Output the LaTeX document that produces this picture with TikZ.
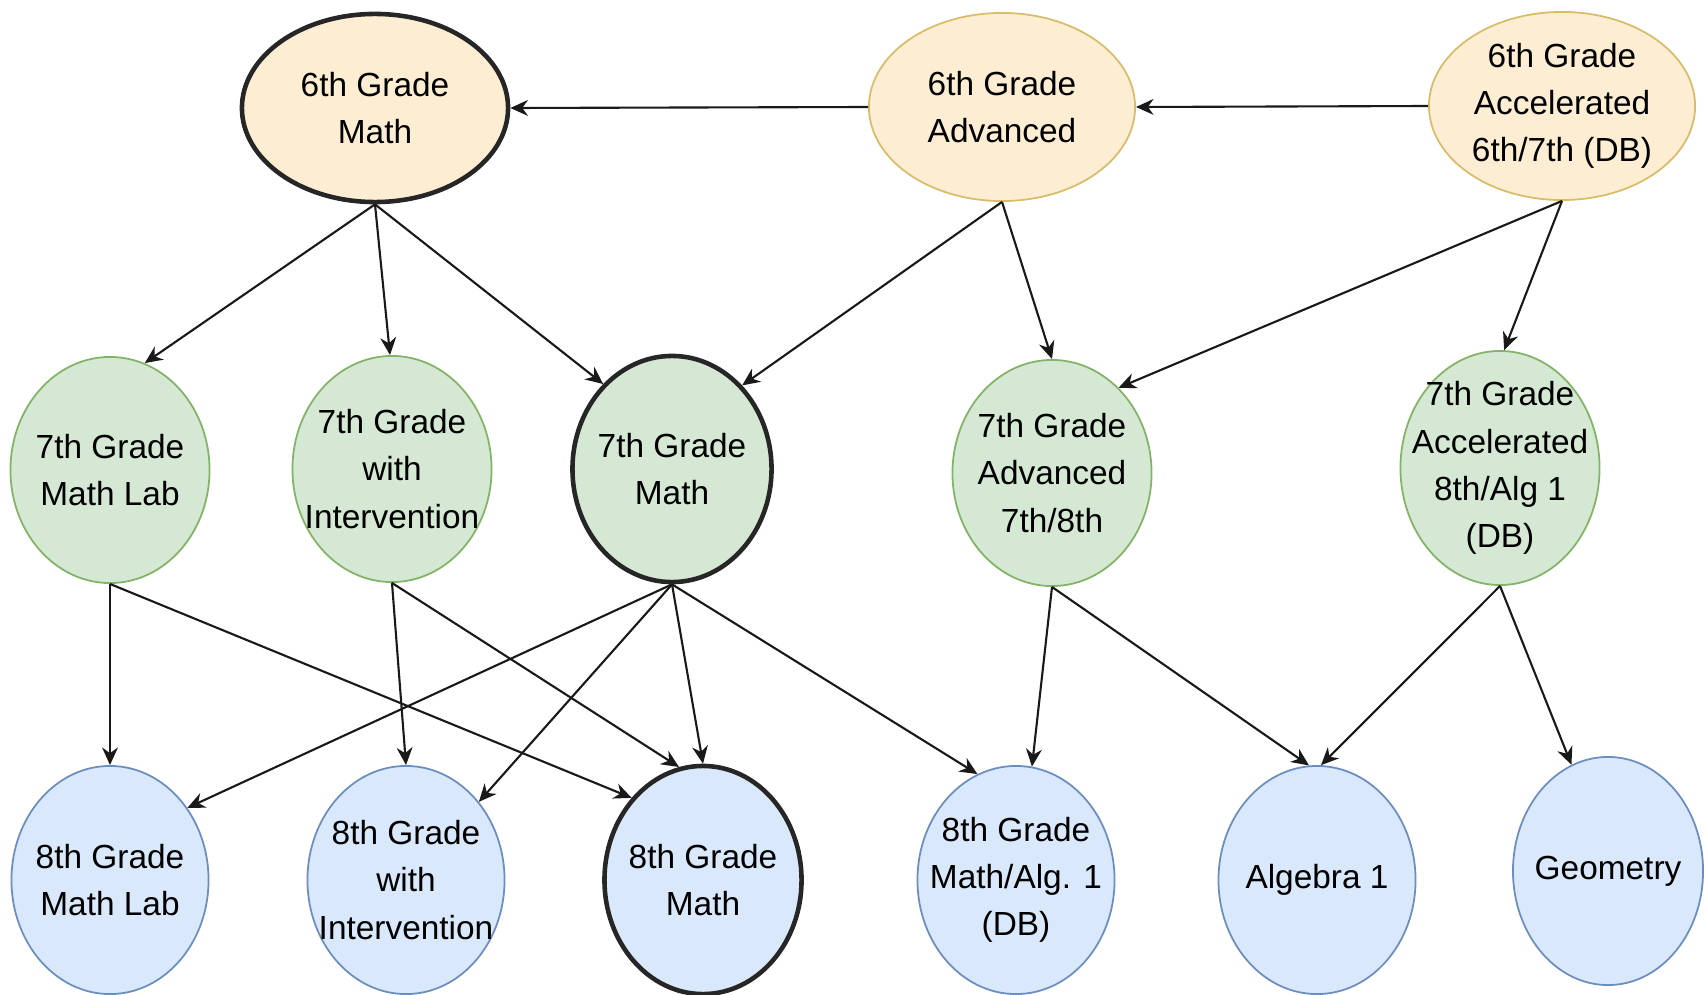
\documentclass[tikz,border=0pt]{standalone}
\usepackage{fontspec}
\setmainfont{Liberation Sans}
\usetikzlibrary{arrows.meta,shapes.geometric}
\definecolor{sixfill}{HTML}{FDEDD2}
\definecolor{sixline}{HTML}{D9BC6A}
\definecolor{sevenfill}{HTML}{D5E8D4}
\definecolor{sevenline}{HTML}{82B366}
\definecolor{eightfill}{HTML}{DAE8FC}
\definecolor{eightline}{HTML}{6C8EBF}
\begin{document}
\begin{tikzpicture}[x=0.01cm, y=-0.01cm,
  course/.style={ellipse, draw, line width=0.5pt, align=center,
    inner xsep=-15pt, inner ysep=-12pt, font=\fontsize{9.5}{13.4}\selectfont},
  sixth/.style={course, fill=sixfill, draw=sixline, minimum width=2.66cm, minimum height=1.88cm},
  seventh/.style={course, fill=sevenfill, draw=sevenline, minimum width=1.99cm, minimum height=2.26cm},
  eighth/.style={course, fill=eightfill, draw=eightline, minimum width=1.97cm, minimum height=2.28cm},
  core/.style={draw=black!85, line width=1.3pt},
  link/.style={-{Stealth[length=5pt,width=4.5pt]}, line width=0.6pt, black!90}]
  \useasboundingbox (0,0) rectangle (1704,994);

  \node[sixth, core] (math6) at (375,108) {6th Grade\\Math};
  \node[sixth] (adv6) at (1002,107) {6th Grade\\Advanced};
  \node[sixth] (acc6) at (1562,106) {6th Grade\\Accelerated\\6th/7th (DB)};

  \node[seventh] (lab7) at (110,470) {7th Grade\\Math Lab};
  \node[seventh] (int7) at (392,469) {7th Grade\\with\\Intervention};
  \node[seventh, core] (math7) at (672,469) {7th Grade\\Math};
  \node[seventh] (adv7) at (1052,473) {7th Grade\\Advanced\\7th/8th};
  \node[seventh, minimum height=2.34cm] (acc7) at (1500,468) {7th Grade\\Accelerated\\8th/Alg 1\\(DB)};

  \node[eighth] (lab8) at (110,880) {8th Grade\\Math Lab};
  \node[eighth] (int8) at (406,880) {8th Grade\\with\\Intervention};
  \node[eighth, core] (math8) at (703,880) {8th Grade\\Math};
  \node[eighth] (db8) at (1016,880) {8th Grade\\Math/Alg. 1\\(DB)};
  \node[eighth] (alg8) at (1317,880) {Algebra 1};
  \node[eighth, minimum width=1.9cm] (geo8) at (1608,871) {Geometry};

  \draw[link] (adv6.west) -- (math6.east);
  \draw[link] (acc6.west) -- (adv6.east);
  \draw[link] (math6.south) -- (lab7.72);
  \draw[link] (math6.south) -- (int7.91);
  \draw[link] (math6.south) -- (math7.129);
  \draw[link] (adv6.south) -- (math7.50);
  \draw[link] (adv6.south) -- (adv7.90);
  \draw[link] (acc6.south) -- (adv7.52);
  \draw[link] (acc6.south) -- (acc7.88);

  \draw[link] (lab7.south) -- (lab8.north);
  \draw[link] (lab7.south) -- (math8.131);
  \draw[link] (int7.south) -- (int8.north);
  \draw[link] (int7.south) -- (math8.102);
  \draw[link] (math7.south) -- (lab8.43);
  \draw[link] (math7.south) -- (int8.47);
  \draw[link] (math7.south) -- (math8.north);
  \draw[link] (math7.south) -- (db8.110);
  \draw[link] (adv7.south) -- (db8.82);
  \draw[link] (adv7.south) -- (alg8.94);
  \draw[link] (acc7.south) -- (alg8.88);
  \draw[link] (acc7.south) -- (geo8.109);
\end{tikzpicture}
\end{document}
